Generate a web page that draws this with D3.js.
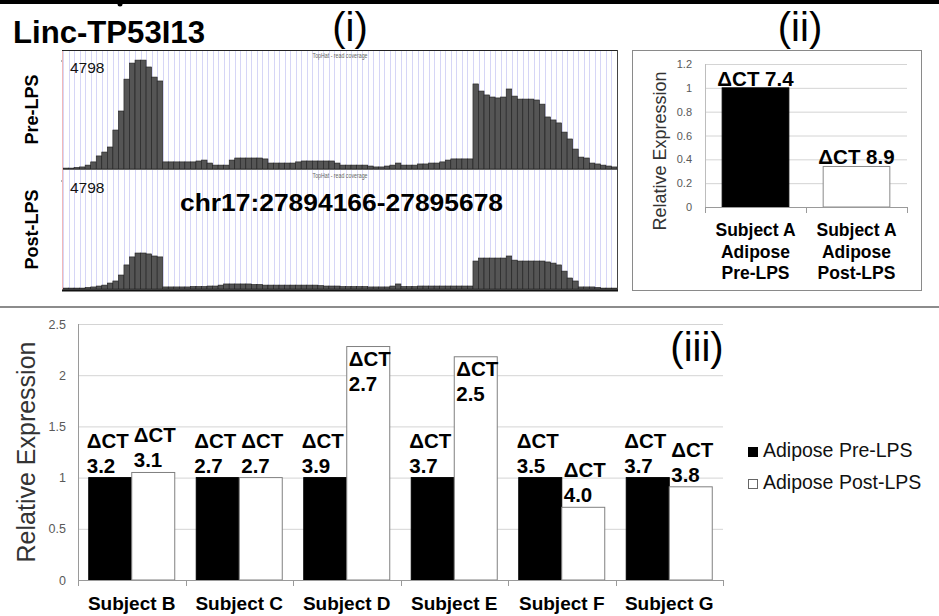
<!DOCTYPE html>
<html>
<head>
<meta charset="utf-8">
<script src="https://cdn.jsdelivr.net/npm/d3@7"></script>
<style>
body { margin: 0; background: #fff; }
svg { display: block; }
text { font-family: Arial, "Liberation Sans", sans-serif; }
</style>
</head>
<body>
<svg id="fig" width="939" height="616"></svg>
<script>
// ---- panel (i): read coverage, 100 bins across the locus
const geneName = "Linc-TP53I13";
const regionLabel = "chr17:27894166-27895678";
const covMax = 4798;
const preLPS = [40,40,70,90,170,310,570,740,960,1700,2530,3920,4620,4750,4750,4450,4010,3840,
  310,310,310,310,310,310,350,390,260,170,170,170,
  390,480,480,480,480,480,440,
  260,260,260,260,260,
  310,350,350,350,350,350,350,
  260,170,170,170,170,170,
  130,90,90,130,170,
  260,
  170,170,170,
  220,220,260,260,310,390,440,440,440,440,
  3710,3400,3230,3140,3100,3140,3490,3180,3050,3050,3050,3010,2830,2270,2140,2010,1610,1310,870,520,480,260,220,170,130,90];
const postLPS = [40,40,40,40,70,90,130,170,260,350,610,1050,1400,1570,1570,1530,1440,1400,
  90,90,90,90,90,110,110,110,130,130,170,220,
  220,220,220,220,200,200,170,
  170,170,170,170,170,
  170,170,170,170,150,130,130,
  130,110,110,110,110,110,
  90,90,90,90,130,
  220,
  110,110,110,
  130,130,130,130,130,130,130,130,130,130,
  1220,1350,1350,1350,1350,1350,1440,1260,1220,1220,1220,1220,1220,1180,1130,1050,780,480,350,90,90,90,70,40,40,40];

// ---- panel (ii): subject A
const subjectALabels = [["Subject A", "Adipose", "Pre-LPS"], ["Subject A", "Adipose", "Post-LPS"]];
const subjectAValues = [1, 0.34];
const subjectADct = ["7.4", "8.9"];
const subjectATicks = [0, 0.2, 0.4, 0.6, 0.8, 1, 1.2];

// ---- panel (iii): subjects B-G
const subjects = ["Subject B", "Subject C", "Subject D", "Subject E", "Subject F", "Subject G"];
const seriesNames = ["Adipose Pre-LPS", "Adipose Post-LPS"];
const preValues = [1, 1, 1, 1, 1, 1];
const postValues = [1.05, 1.0, 2.28, 2.18, 0.71, 0.91];
const preDct = ["3.2", "2.7", "3.9", "3.7", "3.5", "3.7"];
const postDct = ["3.1", "2.7", "2.7", "2.5", "4.0", "3.8"];
const yTicks = [0, 0.5, 1, 1.5, 2, 2.5];

const svg = d3.select("#fig");
const tagFont = "Lato, 'Open Sans', sans-serif";

// top rule
svg.append("rect").attr("x", 0).attr("y", 0).attr("width", 939).attr("height", 4).attr("fill", "#000");
svg.append("circle").attr("cx", 120).attr("cy", 4).attr("r", 2.5).attr("fill", "#000");

svg.append("text").attr("x", 13).attr("y", 43)
  .attr("font-family", tagFont).attr("font-weight", 700).attr("font-size", 31)
  .attr("textLength", 192).attr("lengthAdjust", "spacingAndGlyphs")
  .text(geneName);

function tag(x, y, t) {
  svg.append("text").attr("x", x).attr("y", y).attr("text-anchor", "middle")
    .attr("font-family", tagFont).attr("font-size", 40).text(t);
}
tag(350, 41, "(i)");
tag(800, 41, "(ii)");
tag(697, 361, "(iii)");

// ================= panel (i)
const covL = 63, covR = 617;
const xCov = d3.scaleBand().domain(d3.range(preLPS.length)).range([covL, covR]);
const tracks = [
  { name: "Pre-LPS", data: preLPS, top: 50, base: 169 },
  { name: "Post-LPS", data: postLPS, top: 170, base: 289 }
];

tracks.forEach(t => {
  const g = svg.append("g");
  const y = d3.scaleLinear().domain([0, covMax]).range([t.base, t.base - 110]);

  g.selectAll("line.grid").data(xCov.domain()).join("line")
    .attr("class", "grid")
    .attr("x1", d => Math.round(xCov(d)) + 0.5).attr("x2", d => Math.round(xCov(d)) + 0.5)
    .attr("y1", t.top).attr("y2", t.base)
    .attr("stroke", "#d6d6f6").attr("stroke-width", 1);

  g.selectAll("rect.cov").data(t.data).join("rect")
    .attr("class", "cov")
    .attr("x", (d, i) => xCov(i))
    .attr("width", xCov.bandwidth())
    .attr("y", d => y(d))
    .attr("height", d => t.base - y(d))
    .attr("fill", "#555")
    .attr("stroke", "#1e1e1e").attr("stroke-width", 0.6);

  g.append("line").attr("x1", covL).attr("x2", covR).attr("y1", t.base + 0.5).attr("y2", t.base + 0.5)
    .attr("stroke", "#666");

  g.append("line").attr("x1", covL - 2).attr("x2", covL).attr("y1", y(covMax) + 2).attr("y2", y(covMax) + 2)
    .attr("stroke", "#666");

  g.append("text").attr("x", 70).attr("y", t.top + 23).attr("font-size", 15.5).attr("fill", "#111")
    .text(covMax);

  g.append("text").attr("x", 340).attr("y", t.top + 8).attr("text-anchor", "middle")
    .attr("font-family", "'Liberation Sans Narrow', Arial, sans-serif")
    .attr("font-size", 7).attr("fill", "#666")
    .attr("textLength", 55).attr("lengthAdjust", "spacingAndGlyphs")
    .text("TopHat - read coverage");

  g.append("text")
    .attr("transform", `translate(38,${(t.top + t.base) / 2}) rotate(-90)`)
    .attr("text-anchor", "middle").attr("font-weight", 700).attr("font-size", 18)
    .text(t.name);
});

// frame
svg.append("line").attr("x1", covL - 1).attr("x2", covR).attr("y1", 50.5).attr("y2", 50.5).attr("stroke", "#222");
svg.append("line").attr("x1", covR + 0.5).attr("x2", covR + 0.5).attr("y1", 50).attr("y2", 291).attr("stroke", "#444");
svg.append("line").attr("x1", covL - 0.5).attr("x2", covL - 0.5).attr("y1", 51).attr("y2", 290).attr("stroke", "#f2b8b8");
svg.append("line").attr("x1", covL - 1).attr("x2", covR + 1).attr("y1", 290.5).attr("y2", 290.5)
  .attr("stroke", "#111").attr("stroke-width", 2);

svg.append("text").attr("x", 180).attr("y", 211)
  .attr("font-weight", 700).attr("font-size", 24)
  .attr("textLength", 323).attr("lengthAdjust", "spacingAndGlyphs")
  .text(regionLabel);

// ================= panel (ii)
svg.append("rect").attr("x", 632.5).attr("y", 50.5).attr("width", 289).attr("height", 240)
  .attr("fill", "none").attr("stroke", "#8a8a8a");

const x2 = d3.scaleBand().domain(d3.range(subjectAValues.length)).range([705, 907])
  .paddingInner(0.34).paddingOuter(0.17);
const y2 = d3.scaleLinear().domain([0, 1.2]).range([207, 64]);

const grid2 = svg.append("g").attr("transform", "translate(705,0)")
  .call(d3.axisLeft(y2).tickValues(subjectATicks).tickSize(-202).tickFormat(""));
grid2.select(".domain").remove();
grid2.selectAll("line").attr("stroke", "#d4d4d4");

const ax2 = svg.append("g").attr("transform", "translate(700,0)")
  .call(d3.axisLeft(y2).tickValues(subjectATicks).tickSize(0).tickPadding(8).tickFormat(d3.format("~g")));
ax2.select(".domain").remove();
ax2.selectAll("text").attr("font-size", 11).attr("fill", "#595959").attr("font-family", "Arial, 'Liberation Sans', sans-serif");

svg.append("line").attr("x1", 705.5).attr("x2", 705.5).attr("y1", 64).attr("y2", 207).attr("stroke", "#bdbdbd");

svg.selectAll("rect.barA").data(subjectAValues).join("rect")
  .attr("class", "barA")
  .attr("x", (d, i) => x2(i)).attr("width", x2.bandwidth())
  .attr("y", d => y2(d)).attr("height", d => y2(0) - y2(d))
  .attr("fill", (d, i) => i === 0 ? "#000" : "#fff")
  .attr("stroke", (d, i) => i === 0 ? "#000" : "#8a8a8a");

svg.append("line").attr("x1", 705).attr("x2", 907).attr("y1", 207.5).attr("y2", 207.5).attr("stroke", "#9a9a9a");
[705, 806, 907].forEach(x => {
  svg.append("line").attr("x1", x + 0.5).attr("x2", x + 0.5).attr("y1", 207).attr("y2", 213).attr("stroke", "#9a9a9a");
});

svg.selectAll("text.dctA").data(subjectAValues).join("text")
  .attr("class", "dctA")
  .attr("x", (d, i) => x2(i) + x2.bandwidth() / 2).attr("y", d => y2(d) - 2)
  .attr("text-anchor", "middle").attr("font-weight", 700).attr("font-size", 20.5)
  .text((d, i) => "ΔCT " + subjectADct[i]);

subjectALabels.forEach((lines, i) => {
  const t = svg.append("text").attr("text-anchor", "middle").attr("font-weight", 700).attr("font-size", 17.5);
  lines.forEach((l, j) => {
    t.append("tspan").attr("x", x2(i) + x2.bandwidth() / 2).attr("y", 236 + j * 21.5).text(l);
  });
});

svg.append("text").attr("transform", "translate(666,151) rotate(-90)")
  .attr("text-anchor", "middle").attr("font-size", 18).attr("fill", "#333")
  .text("Relative Expression");

// separator
svg.append("line").attr("x1", 0).attr("x2", 939).attr("y1", 307).attr("y2", 307)
  .attr("stroke", "#8c8c8c").attr("stroke-width", 2);

// ================= panel (iii)
const x0 = d3.scaleBand().domain(subjects).range([78, 723]).paddingInner(0.2).paddingOuter(0.1);
const x1 = d3.scaleBand().domain(seriesNames).range([0, x0.bandwidth()]);
const y3 = d3.scaleLinear().domain([0, 2.5]).range([580, 324]);

const grid3 = svg.append("g").attr("transform", "translate(78,0)")
  .call(d3.axisLeft(y3).tickValues(yTicks).tickSize(-645).tickFormat(""));
grid3.select(".domain").remove();
grid3.selectAll("line").attr("stroke", "#d4d4d4");

const ax3 = svg.append("g").attr("transform", "translate(72,0)")
  .call(d3.axisLeft(y3).tickValues(yTicks).tickSize(0).tickPadding(6).tickFormat(d3.format("~g")));
ax3.select(".domain").remove();
ax3.selectAll("text").attr("font-size", 12.5).attr("fill", "#595959").attr("font-family", "Arial, 'Liberation Sans', sans-serif");

svg.append("line").attr("x1", 78.5).attr("x2", 78.5).attr("y1", 324).attr("y2", 580).attr("stroke", "#9a9a9a");

const bars = [];
subjects.forEach((s, i) => {
  bars.push({ s, series: seriesNames[0], v: preValues[i], dct: preDct[i] });
  bars.push({ s, series: seriesNames[1], v: postValues[i], dct: postDct[i] });
});

svg.selectAll("rect.bar").data(bars).join("rect")
  .attr("class", "bar")
  .attr("x", d => x0(d.s) + x1(d.series)).attr("width", x1.bandwidth())
  .attr("y", d => y3(d.v)).attr("height", d => y3(0) - y3(d.v))
  .attr("fill", d => d.series === seriesNames[0] ? "#000" : "#fff")
  .attr("stroke", d => d.series === seriesNames[0] ? "#000" : "#808080");

svg.append("line").attr("x1", 78).attr("x2", 723).attr("y1", 580.5).attr("y2", 580.5).attr("stroke", "#9a9a9a");
const edges = subjects.map(s => x0(s) - x0.step() * x0.paddingOuter()).concat([723]);
svg.selectAll("line.xtick").data(edges).join("line")
  .attr("class", "xtick")
  .attr("x1", d => Math.round(d) + 0.5).attr("x2", d => Math.round(d) + 0.5)
  .attr("y1", 580).attr("y2", 586).attr("stroke", "#9a9a9a");

// delta CT labels: outside end, or inside end when they would leave the plot
bars.forEach(d => {
  const top = y3(d.v);
  const inside = top - 50 < y3(2.5);
  const isPre = d.series === seriesNames[0];
  const lx = x0(d.s) + x1(d.series) + (isPre ? -2 : 2);
  const b1 = inside ? top + 19 : top - 30;
  const t = svg.append("text").attr("font-weight", 700).attr("font-size", 20.5);
  t.append("tspan").attr("x", lx).attr("y", b1).text("ΔCT");
  t.append("tspan").attr("x", lx).attr("y", b1 + 25).text(d.dct);
});

svg.selectAll("text.subj").data(subjects).join("text")
  .attr("class", "subj")
  .attr("x", d => x0(d) + x0.bandwidth() / 2).attr("y", 610)
  .attr("text-anchor", "middle").attr("font-weight", 700).attr("font-size", 19)
  .text(d => d);

svg.append("text").attr("transform", "translate(35,452) rotate(-90)")
  .attr("text-anchor", "middle").attr("font-size", 25).attr("fill", "#333")
  .text("Relative Expression");

// legend
const leg = svg.selectAll("g.leg").data(seriesNames).join("g")
  .attr("class", "leg")
  .attr("transform", (d, i) => `translate(748,${447 + i * 32})`);
leg.append("rect").attr("x", 0.5).attr("y", 0.5).attr("width", 9).attr("height", 9)
  .attr("fill", (d, i) => i === 0 ? "#000" : "#fff")
  .attr("stroke", (d, i) => i === 0 ? "#000" : "#666");
leg.append("text").attr("x", 15).attr("y", 10).attr("font-size", 19.5).attr("fill", "#111")
  .text(d => d);
</script>
</body>
</html>
